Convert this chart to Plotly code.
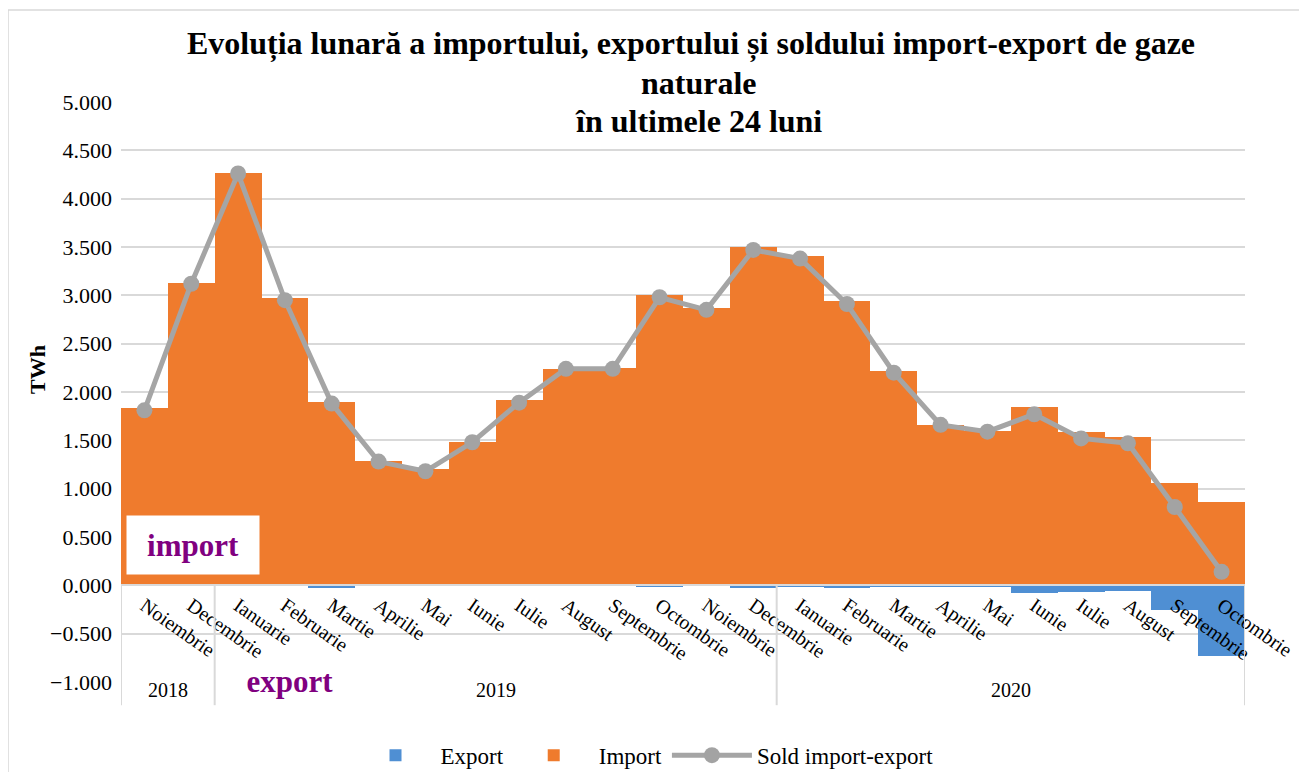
import plotly.graph_objects as go

years = ["2018"] * 2 + ["2019"] * 12 + ["2020"] * 10
months = [
    "Noiembrie", "Decembrie",
    "Ianuarie", "Februarie", "Martie", "Aprilie", "Mai", "Iunie", "Iulie",
    "August", "Septembrie", "Octombrie", "Noiembrie", "Decembrie",
    "Ianuarie", "Februarie", "Martie", "Aprilie", "Mai", "Iunie", "Iulie",
    "August", "Septembrie", "Octombrie",
]
import_vals = [1.83, 3.13, 4.27, 2.97, 1.90, 1.29, 1.20, 1.48, 1.92, 2.24, 2.25, 3.00,
               2.87, 3.50, 3.41, 2.94, 2.22, 1.66, 1.60, 1.85, 1.59, 1.53, 1.06, 0.86]
export_vals = [0.00, 0.00, 0.00, 0.00, -0.03, 0.00, 0.00, 0.00, 0.00, 0.00, 0.00, -0.01,
               0.00, -0.03, -0.01, -0.03, -0.01, -0.01, -0.02, -0.08, -0.07, -0.06, -0.25, -0.73]
sold_vals = [1.81, 3.12, 4.26, 2.95, 1.88, 1.28, 1.18, 1.48, 1.89, 2.24, 2.24, 2.98,
             2.85, 3.47, 3.38, 2.91, 2.20, 1.66, 1.59, 1.77, 1.52, 1.47, 0.81, 0.14]

FONT = "Liberation Serif"
GRID = "#D9D9D9"
# unique category keys (month + year); ticks show the month names only
x = [f"{m} {y}" for m, y in zip(months, years)]

fig = go.Figure()
fig.add_trace(go.Bar(x=x, y=export_vals, name="Export",
                     marker=dict(color="#4F8FD3", line=dict(width=0))))
fig.add_trace(go.Bar(x=x, y=import_vals, name="Import",
                     marker=dict(color="#EF7B2D", line=dict(width=0))))
fig.add_trace(go.Scatter(x=x, y=sold_vals, name="Sold import-export", mode="lines+markers",
                         line=dict(color="#A5A5A5", width=5),
                         marker=dict(color="#A3A3A3", size=16)))

Y0, Y1 = -1, 5
fig.update_layout(
    width=1299, height=764,
    barmode="relative", bargap=0,
    plot_bgcolor="white", paper_bgcolor="white",
    margin=dict(l=113, r=62, t=94, b=90, autoexpand=False),
    font=dict(family=FONT, color="black", size=20),
    showlegend=True,
    legend=dict(orientation="h", x=0.49, xref="container", xanchor="center",
                y=0.022, yref="container", yanchor="middle", itemwidth=80,
                font=dict(family=FONT, size=23), traceorder="normal"),
    xaxis=dict(type="category", anchor="free", position=(0 - Y0) / (Y1 - Y0),
               tickmode="array", tickvals=x, ticktext=months,
               tickangle=35, showgrid=False, showline=True, linecolor=GRID, linewidth=2,
               tickfont=dict(family=FONT, size=20, color="black"), ticks="",
               range=[-0.5, len(x) - 0.5], automargin=False),
    yaxis=dict(range=[Y0, Y1], dtick=0.5, tickformat=".3f", gridcolor=GRID, gridwidth=2,
               zeroline=False, showline=False, ticks="", ticklabelstandoff=8,
               tickfont=dict(family=FONT, size=22, color="black"), automargin=False),
)

# year group labels and dividers, derived from the years list
groups = []
for i, yv in enumerate(years):
    if not groups or groups[-1][0] != yv:
        groups.append([yv, i, i])
    else:
        groups[-1][2] = i
for yv, i0, i1 in groups:
    fig.add_annotation(text=yv, x=(i0 + i1) / 2, xref="x", y=-0.0138, yref="paper",
                       showarrow=False, yanchor="middle",
                       font=dict(family=FONT, size=20, color="black"))
bounds = [g[1] - 0.5 for g in groups] + [groups[-1][2] + 0.5]
for b in bounds:
    fig.add_shape(type="line", xref="x", yref="paper", x0=b, x1=b,
                  y0=(0 - Y0) / (Y1 - Y0), y1=-0.04,
                  line=dict(color=GRID, width=2))

title_font = dict(family=FONT, size=32, color="black")
ann = [
    dict(text="<b>Evoluția lunară a importului, exportului și soldului import-export de gaze</b>",
         x=0.507, y=1.101, font=title_font),
    dict(text="<b>naturale</b>", x=0.514, y=1.033, font=title_font),
    dict(text="<b>în ultimele 24 luni</b>", x=0.514, y=0.968, font=title_font),
    dict(text="<b>TWh</b>", x=-0.0738, y=0.538, textangle=-90,
         font=dict(family=FONT, size=22, color="black")),
    dict(text="<b>import</b>", x=0.064, y=0.236, width=130, height=56, bgcolor="white",
         font=dict(family=FONT, size=31, color="#800080")),
    dict(text="<b>export</b>", x=0.150, y=0.0017, width=134, height=40, bgcolor="white",
         font=dict(family=FONT, size=31, color="#800080")),
]
for a in ann:
    a.update(xref="paper", yref="paper", showarrow=False, xanchor="center", yanchor="middle")
    fig.add_annotation(**a)

fig.add_shape(type="rect", xref="paper", yref="paper",
              x0=-0.1005, x1=1.2, y0=-0.4, y1=1.1586,
              line=dict(color=GRID, width=1.5), fillcolor="rgba(0,0,0,0)", layer="below")

fig.write_html("out.html")
